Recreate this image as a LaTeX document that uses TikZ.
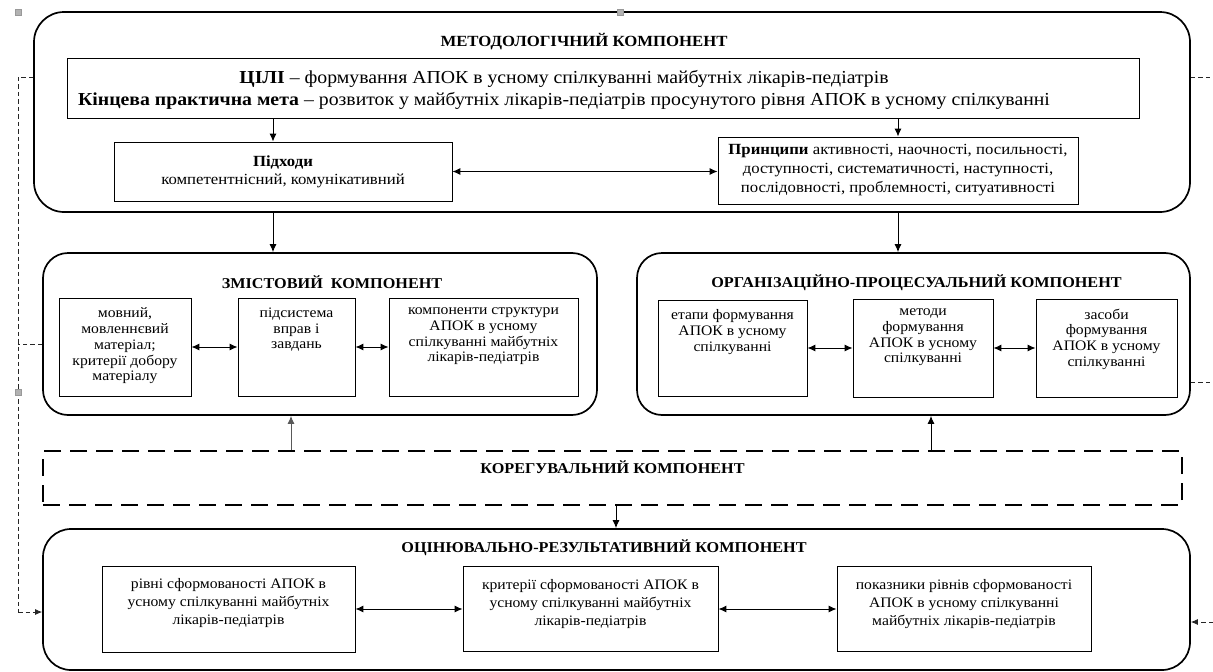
\documentclass[tikz,border=0pt]{standalone}
\usepackage{fontspec}
\setmainfont{Liberation Serif}[FakeStretch=1.08]
\usetikzlibrary{arrows.meta}
\begin{document}
\begin{tikzpicture}[x=1pt,y=-1pt,
  bx/.style={draw, line width=0.9pt, inner sep=0pt, align=center},
  big/.style={draw, line width=1.7pt, rounded corners=28pt, inner sep=0pt},
  ttl/.style={font=\fontsize{15}{18}\selectfont\bfseries, inner sep=0pt},
  sm/.style={font=\fontsize{14.5}{15.8}\selectfont, align=center, inner sep=0pt, anchor=north},
  bm/.style={font=\fontsize{14.5}{18}\selectfont, align=center, inner sep=0pt, anchor=north},
  arr/.style={line width=1pt, -{Latex[length=8pt,width=7pt]}},
  darr/.style={line width=1pt, {Latex[length=8pt,width=7pt]}-{Latex[length=8pt,width=7pt]}},
  dsh/.style={line width=0.8pt, dash pattern=on 4.5pt off 3pt, black!85},
  dtip/.style={-{Latex[length=7pt,width=6pt]}},
  hdl/.style={fill=gray!60, draw=gray!80, minimum size=6pt, inner sep=0pt}]
\useasboundingbox (0,0) rectangle (1213,672);

% ---------- methodological component ----------
\node[big, rounded corners=30pt, minimum width=1156pt, minimum height=200pt] (meth) at (612,112) {};
\node[ttl, font=\fontsize{15.5}{18}\selectfont\bfseries] (methT) at (584,42) {МЕТОДОЛОГІЧНИЙ КОМПОНЕНТ};
\node[bx, minimum width=1072pt, minimum height=60pt] (goals) at (603,88) {};
\node[font=\fontsize{18.3}{22}\selectfont, align=center, inner sep=0pt] (goalsT) at (564,90)
  {\textbf{ЦІЛІ} – формування АПОК в усному спілкуванні майбутніх лікарів-педіатрів\\
   \textbf{Кінцева практична мета} – розвиток у майбутніх лікарів-педіатрів просунутого рівня АПОК в усному спілкуванні};
\node[bx, minimum width=338pt, minimum height=59pt, font=\fontsize{15.5}{18}\selectfont] (appr) at (283,171.5)
  {\textbf{Підходи}\\компетентнісний, комунікативний};
\node[bx, minimum width=360pt, minimum height=67pt, font=\fontsize{15.5}{19}\selectfont] (princ) at (898,170.5)
  {\textbf{Принципи} активності, наочності, посильності,\\доступності, систематичності, наступності,\\послідовності, проблемності, ситуативності};

% ---------- content component ----------
\node[big, rounded corners=25pt, minimum width=554pt, minimum height=162pt] (content) at (320,334) {};
\node[ttl] (contentT) at (332,282) {ЗМІСТОВИЙ\ \ КОМПОНЕНТ};
\node[bx, minimum width=132pt, minimum height=98pt] (c1) at (125,347) {};
\node[bx, minimum width=117pt, minimum height=98pt] (c2) at (296.5,347) {};
\node[bx, minimum width=189pt, minimum height=98pt] (c3) at (483.5,347) {};
\node[sm] (c1T) at ([yshift=-10pt]c1.north) {мовний,\\мовленнєвий\\матеріал;\\критерії добору\\матеріалу};
\node[sm] (c2T) at ([yshift=-10pt]c2.north) {підсистема\\вправ і\\завдань};
\node[sm] (c3T) at ([yshift=-10pt]c3.north) {компоненти структури\\АПОК в усному\\спілкуванні майбутніх\\лікарів-педіатрів};

% ---------- organisational component ----------
\node[big, rounded corners=25pt, minimum width=553pt, minimum height=162pt] (org) at (913.5,334) {};
\node[ttl] (orgT) at (916.5,283) {ОРГАНІЗАЦІЙНО-ПРОЦЕСУАЛЬНИЙ КОМПОНЕНТ};
\node[bx, minimum width=149pt, minimum height=96pt] (o1) at (732.5,348) {};
\node[bx, minimum width=140pt, minimum height=98pt] (o2) at (923,348) {};
\node[bx, minimum width=141pt, minimum height=98pt] (o3) at (1106.5,348) {};
\node[sm] (o1T) at ([yshift=-10pt]o1.north) {етапи формування\\АПОК в усному\\спілкуванні};
\node[sm] (o2T) at ([yshift=-10pt]o2.north) {методи\\формування\\АПОК в усному\\спілкуванні};
\node[sm] (o3T) at ([yshift=-10pt]o3.north) {засоби\\формування\\АПОК в усному\\спілкуванні};

% ---------- corrective component ----------
\node[draw, line width=2.8pt, dash pattern=on 17pt off 9pt, minimum width=1139pt, minimum height=54pt, inner sep=0pt] (corr) at (612.5,478) {};
\node[ttl] (corrT) at (612.5,467) {КОРЕГУВАЛЬНИЙ КОМПОНЕНТ};

% ---------- evaluative component ----------
\node[big, minimum width=1147pt, minimum height=141pt] (eval) at (616.5,599.5) {};
\node[ttl] (evalT) at (604,548) {ОЦІНЮВАЛЬНО-РЕЗУЛЬТАТИВНИЙ КОМПОНЕНТ};
\node[bx, minimum width=253pt, minimum height=86pt] (r1) at (228.5,609) {};
\node[bx, minimum width=255pt, minimum height=85pt] (r2) at (590.5,609) {};
\node[bx, minimum width=254pt, minimum height=85pt] (r3) at (964,609) {};
\node[bm] (r1T) at ([yshift=-13pt]r1.north) {рівні сформованості АПОК в\\усному спілкуванні майбутніх\\лікарів-педіатрів};
\node[bm] (r2T) at ([yshift=-13pt]r2.north) {критерії сформованості АПОК в\\усному спілкуванні майбутніх\\лікарів-педіатрів};
\node[bm] (r3T) at ([yshift=-13pt]r3.north) {показники рівнів сформованості\\АПОК в усному спілкуванні\\майбутніх лікарів-педіатрів};

% ---------- connectors ----------
\coordinate (xa) at (273,0);
\coordinate (xb) at (291,0);
\coordinate (xc) at (931,0);
\coordinate (xd) at (616,0);
\draw[arr] (goals.south -| xa) -- (appr.north -| xa);
\draw[arr] (goals.south -| princ.north) -- (princ.north);
\draw[darr] (appr.east) -- (appr.east -| princ.west);
\draw[arr] (meth.south -| xa) -- (content.north -| xa);
\draw[arr] (meth.south -| princ.north) -- (org.north -| princ.north);
\draw[darr] (c1.east) -- (c2.west);
\draw[darr] (c2.east) -- (c3.west);
\draw[darr] (o1.east) -- (o2.west);
\draw[darr] (o2.east) -- (o3.west);
\draw[arr, black!65] (corr.north -| xb) -- (content.south -| xb);
\draw[arr] (corr.north -| xc) -- (org.south -| xc);
\draw[arr] (corr.south -| xd) -- (eval.north -| xd);
\draw[darr] (r1.east) -- (r2.west);
\draw[darr] (r2.east) -- (r3.west);

% ---------- dashed feedback lines ----------
\coordinate (lt) at (18,77);
\coordinate (lm) at (18,344);
\coordinate (lb) at (18,612);
\coordinate (rt) at (1213,77);
\coordinate (rm) at (1213,382);
\coordinate (rb) at (1213,622);
\draw[dsh] (meth.west |- lt) -- (lt) -- (lb);
\draw[dsh, dtip] (lb) -- (eval.west |- lb);
\draw[dsh] (content.west |- lm) -- (lm);
\draw[dsh] (meth.east |- rt) -- (rt);
\draw[dsh] (org.east |- rm) -- (rm);
\draw[dsh, dtip] (rb) -- (eval.east |- rb);

% ---------- selection handles ----------
\node[hdl] (h1) at (18,12) {};
\node[hdl] (h2) at (620,12) {};
\node[hdl] (h3) at (18,392) {};
\end{tikzpicture}
\end{document}
